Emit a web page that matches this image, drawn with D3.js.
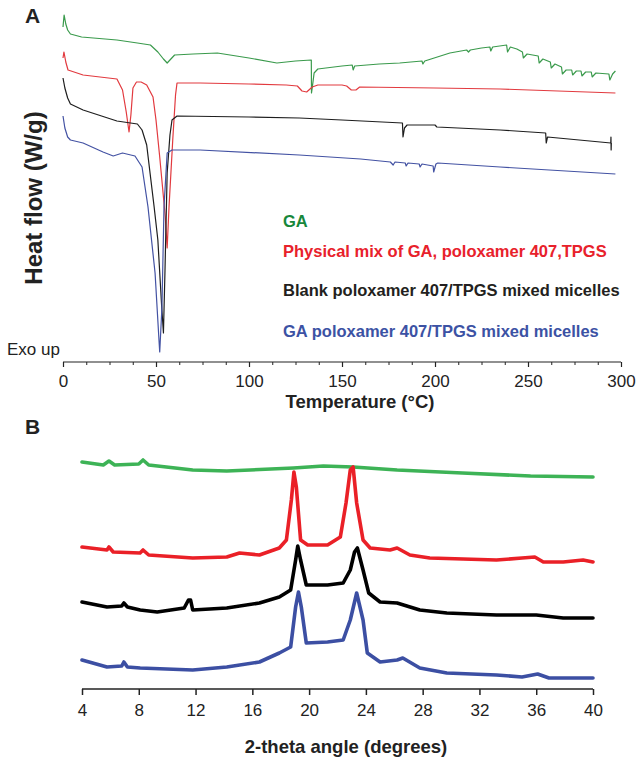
<!DOCTYPE html>
<html>
<head>
<meta charset="utf-8">
<script src="https://cdn.jsdelivr.net/npm/d3@7"></script>
<style>
  html, body { margin: 0; padding: 0; background: #fff; }
  svg { display: block; font-family: "Liberation Sans", Arial, sans-serif; }
</style>
</head>
<body>
<svg id="chart" width="643" height="760"></svg>
<script>
// ---------- Panel A: DSC (temperature °C, relative heat flow units) ----------
const dscGA = [[0,33.5],[0.6,34.7],[1.5,33.8],[2.5,33.2],[4,32.8],[10,32.5],[29,32.2],[40,31.9],[47,31.7],[51,31.0],[54,30.3],[56,29.9],[58,30.3],[60,30.7],[70,30.8],[83,30.9],[100,30.4],[115,29.9],[125,30.1],[133.5,30.2],[133.6,26.9],[134.2,27.7],[135,28.9],[137,29.3],[150,29.6],[155.5,29.7],[156,29.2],[156.8,29.6],[170,29.8],[181,29.9],[193,30.1],[193.5,29.8],[194.5,30.1],[208,30.9],[217,31.2],[218,31.0],[219,31.2],[225,31.4],[229.5,31.5],[230,31.1],[231,31.5],[238.5,31.7],[239,31.0],[240.5,31.5],[244,31.3],[247,31.0],[247.5,30.4],[249.5,30.8],[255.5,30.6],[256,29.9],[258,30.3],[262,30.0],[262.5,29.4],[264.5,29.8],[268,29.5],[268.5,28.8],[270.5,29.2],[273.5,29.2],[274,28.7],[276,29.1],[278.5,29.1],[279,28.6],[281,29.0],[284,29.0],[284.5,28.5],[286.5,28.9],[293.5,28.8],[294,28.2],[295.5,28.8],[297,29.1]];
const dscMix = [[0,30.4],[0.5,31.0],[1.5,30.0],[2.7,29.2],[10.8,28.7],[29,28.3],[32,27.2],[34,25.0],[35.5,23.0],[36.5,24.7],[37.6,27.4],[39.5,28.0],[42,28.0],[45,27.7],[48.4,26.5],[50,24.2],[52,20.5],[55,14.5],[56,11.4],[57,15.5],[59,22.2],[60.5,26.7],[61.3,27.9],[73.7,27.9],[100,27.8],[120,27.7],[126,27.6],[128.5,27.1],[131,27.0],[134,27.5],[137,27.7],[150,27.7],[152.5,27.6],[155,27.2],[157.5,27.2],[159.5,27.5],[200,27.4],[235,27.3],[297,26.9]];
const dscBlank = [[0,28.4],[1,27.4],[2.5,26.4],[4,25.8],[10.8,25.2],[29,24.1],[40,23.8],[42.5,23.2],[45,21.7],[46.8,18.9],[49,15.5],[51,12.2],[53,5.7],[54,2.9],[54.8,8.9],[56,18.9],[57.5,22.7],[58.6,24.2],[61.3,24.6],[100,24.5],[127,24.4],[150,24.2],[182.5,23.9],[182.8,22.5],[183.6,23.4],[185,23.7],[200,23.7],[201,23.5],[235,23.2],[259.5,22.9],[259.8,21.9],[260.5,22.5],[294.5,21.9],[294.6,22.5],[294.7,21.2],[294.8,21.9]];
const dscMicelles = [[0,24.6],[1,23.4],[2.5,22.5],[4,22.2],[10.8,21.9],[21.5,21.0],[27,20.6],[32,20.9],[38.7,20.6],[42.5,19.5],[45.7,15.5],[49.5,8.9],[51.6,2.2],[52,1.0],[53.2,5.5],[54.3,15.5],[56,20.9],[58.6,21.2],[73.7,21.2],[127,20.7],[160,20.3],[176,20.0],[177.5,19.7],[178.5,20.0],[184,19.9],[184.5,19.6],[185.5,19.9],[191.5,19.8],[192,19.5],[193,19.8],[199,19.6],[199.3,19.0],[200.5,19.8],[201.5,19.9],[235,19.5],[297,18.8]];
const tempTicks = [0,50,100,150,200,250,300];
const tempMinorTicks = d3.range(0, 300.1, 12.5);
const legendLabels = ["GA","Physical mix of GA, poloxamer 407,TPGS","Blank poloxamer 407/TPGS mixed micelles","GA poloxamer 407/TPGS mixed micelles"];

// ---------- Panel B: XRD (2-theta degrees, relative intensity) ----------
const xrdGA = [[4,227],[5.5,224],[5.9,228],[6.3,224],[8.0,225],[8.3,229],[8.7,224],[11.8,219],[14.2,218],[18.9,221],[21,223],[23.1,222],[26.2,219],[30.8,216],[35.6,213],[40,212]];
const xrdMix = [[4,142],[5.76,139],[5.9,142],[6.2,137],[8.09,136],[8.3,139],[8.7,134],[11.8,131],[14.2,132],[15.1,136],[16.5,134],[17.9,141],[18.4,149],[18.75,189],[18.93,217],[19.1,202],[19.4,149],[19.9,144],[21.3,144],[22.2,152],[22.6,186],[22.9,219],[23.1,222],[23.35,186],[23.8,149],[24.3,141],[25.7,139],[26.2,141],[27.1,134],[28.5,131],[33.2,129],[35.0,131],[35.9,132],[36.5,127],[37.9,127],[39.3,129],[40,127]];
const xrdBlank = [[4,87],[5.76,82],[6.8,83],[6.95,86],[7.2,82],[8.1,79],[9.3,77],[11.2,81],[11.5,89],[11.65,89],[11.8,79],[14.2,81],[16.5,86],[17.9,92],[18.7,99],[19.05,129],[19.2,143],[19.4,129],[19.8,104],[21.3,104],[22.4,106],[22.9,119],[23.2,137],[23.4,141],[23.8,119],[24.2,96],[25.0,87],[26.2,86],[27.8,79],[29.7,76],[33.2,74],[36.0,74],[37.9,71],[40,71]];
const xrdMicelles = [[4,29],[5.76,22],[6.8,23],[6.95,27],[7.2,22],[8.1,21],[11.8,19],[14.2,22],[16.5,27],[17.9,36],[18.7,42],[19.05,82],[19.25,97],[19.45,82],[19.8,46],[21.3,47],[22.4,49],[22.9,69],[23.35,96],[23.8,69],[24.1,36],[25.0,27],[26.2,29],[26.6,31],[27.8,21],[29.7,16],[33.2,14],[35.0,12],[36.1,15],[36.9,11],[40,11]];
const thetaTicks = [4,8,12,16,20,24,28,32,36,40];

// ---------- Drawing ----------
const svg = d3.select("#chart");
const FONT = '"Liberation Sans", Arial, sans-serif';

// Panel A scales
const xA = d3.scaleLinear().domain([0, 300]).range([63, 621]);
const yA = d3.scaleLinear().domain([0, 36.2]).range([362, 0]);
const lineA = d3.line().x(d => xA(d[0])).y(d => yA(d[1]));

const dscSeries = [
  {data: dscGA, color: "#3a9a4c"},
  {data: dscMix, color: "#e23a3f"},
  {data: dscBlank, color: "#1e1e1e"},
  {data: dscMicelles, color: "#4352a3"}
];
svg.append("g").selectAll("path").data(dscSeries).join("path")
  .attr("d", d => lineA(d.data))
  .attr("fill", "none")
  .attr("stroke", d => d.color)
  .attr("stroke-width", 1.2)
  .attr("stroke-linejoin", "round");

// Panel A axis
const axA = svg.append("g").attr("transform", "translate(0,362)");
axA.call(d3.axisBottom(xA).tickValues(tempMinorTicks).tickSize(3).tickFormat(""))
  .call(g => g.select(".domain").remove());
axA.selectAll("line").attr("stroke", "#222");
const axAmaj = svg.append("g").attr("transform", "translate(0,362)");
axAmaj.call(d3.axisBottom(xA).tickValues(tempTicks).tickSize(5).tickPadding(8).tickFormat(d3.format("d")));
axAmaj.select(".domain").attr("d", `M${xA(0)},0H${xA(300)}`).attr("stroke", "#222").attr("stroke-width", 1.2);
axAmaj.selectAll("line").attr("stroke", "#222").attr("stroke-width", 1.2);
axAmaj.selectAll("text").attr("font-family", FONT).attr("font-size", 17).attr("fill", "#222");

svg.append("text").attr("x", 360).attr("y", 408).attr("text-anchor", "middle")
  .attr("font-family", FONT).attr("font-weight", "bold").attr("font-size", 18.5).attr("fill", "#222")
  .text("Temperature (°C)");

svg.append("text").attr("transform", "translate(42,198) rotate(-90)").attr("text-anchor", "middle")
  .attr("font-family", FONT).attr("font-weight", "bold").attr("font-size", 24).attr("fill", "#222")
  .text("Heat flow (W/g)");

svg.append("text").attr("x", 7).attr("y", 355)
  .attr("font-family", FONT).attr("font-size", 17).attr("fill", "#222").text("Exo up");

svg.append("text").attr("x", 25).attr("y", 23)
  .attr("font-family", FONT).attr("font-weight", "bold").attr("font-size", 21).attr("fill", "#222").text("A");

// Legend
const legendColors = ["#17873b", "#e8212b", "#231f20", "#3c52a4"];
const legendY = [227, 257, 296, 337];
svg.append("g").selectAll("text").data(legendLabels).join("text")
  .attr("x", 283).attr("y", (d, i) => legendY[i])
  .attr("font-family", FONT).attr("font-weight", "bold").attr("font-size", 16.5)
  .attr("fill", (d, i) => legendColors[i])
  .text(d => d);

// Panel B scales
const xB = d3.scaleLinear().domain([4, 40]).range([82, 593]);
const yB = d3.scaleLinear().domain([0, 240]).range([689, 449]);
const lineB = d3.line().x(d => xB(d[0])).y(d => yB(d[1]));

const xrdSeries = [
  {data: xrdGA, color: "#3db356"},
  {data: xrdMix, color: "#ea2027"},
  {data: xrdBlank, color: "#000000"},
  {data: xrdMicelles, color: "#3c4fa3"}
];
svg.append("g").selectAll("path").data(xrdSeries).join("path")
  .attr("d", d => lineB(d.data))
  .attr("fill", "none")
  .attr("stroke", d => d.color)
  .attr("stroke-width", 3.6)
  .attr("stroke-linejoin", "round")
  .attr("stroke-linecap", "round");

const axB = svg.append("g").attr("transform", "translate(0,689)");
axB.call(d3.axisBottom(xB).tickValues(thetaTicks).tickSize(6).tickPadding(9).tickFormat(d3.format("d")));
axB.select(".domain").attr("d", `M${xB(4)},0H${xB(40)}`).attr("stroke", "#222").attr("stroke-width", 1.5);
axB.selectAll("line").attr("stroke", "#222").attr("stroke-width", 1.5);
axB.selectAll("text").attr("font-family", FONT).attr("font-size", 17).attr("fill", "#222");

svg.append("text").attr("x", 346).attr("y", 753).attr("text-anchor", "middle")
  .attr("font-family", FONT).attr("font-weight", "bold").attr("font-size", 18.5).attr("fill", "#222")
  .text("2-theta angle (degrees)");

svg.append("text").attr("x", 25).attr("y", 434)
  .attr("font-family", FONT).attr("font-weight", "bold").attr("font-size", 21).attr("fill", "#222").text("B");
</script>
</body>
</html>
